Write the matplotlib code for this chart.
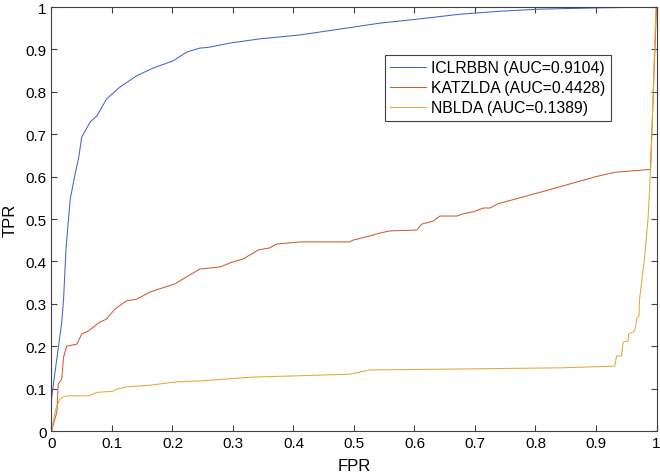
import matplotlib
matplotlib.use("Agg")
from matplotlib import pyplot as plt
from matplotlib.ticker import FuncFormatter

# ROC points
fpr_iclrbbn = [0, 0.0, 0.005, 0.011, 0.017, 0.02, 0.024, 0.031, 0.039, 0.045, 0.05, 0.064, 0.075,
               0.091, 0.113, 0.141, 0.168, 0.201, 0.224, 0.245, 0.26, 0.295, 0.345, 0.41, 0.477,
               0.543, 0.609, 0.675, 0.741, 0.807, 0.906, 1.0]
tpr_iclrbbn = [0, 0.075, 0.13, 0.193, 0.257, 0.311, 0.43, 0.547, 0.606, 0.645, 0.693, 0.729, 0.743,
               0.783, 0.811, 0.838, 0.856, 0.873, 0.894, 0.903, 0.905, 0.915, 0.925, 0.934, 0.948,
               0.962, 0.972, 0.983, 0.99, 0.995, 0.998, 1.0]

fpr_katzlda = [0, 0.009, 0.011, 0.017, 0.02, 0.025, 0.042, 0.05, 0.061, 0.08, 0.091, 0.105, 0.124,
               0.141, 0.163, 0.204, 0.245, 0.279, 0.298, 0.317, 0.342, 0.361, 0.372, 0.411, 0.493,
               0.498, 0.526, 0.543, 0.559, 0.604, 0.612, 0.631, 0.642, 0.67, 0.68, 0.697, 0.714,
               0.725, 0.738, 0.8, 0.85, 0.9, 0.93, 0.99, 1.0]
tpr_katzlda = [0, 0.045, 0.11, 0.123, 0.174, 0.2, 0.205, 0.229, 0.236, 0.257, 0.264, 0.288, 0.307,
               0.311, 0.328, 0.347, 0.382, 0.387, 0.398, 0.406, 0.427, 0.432, 0.441, 0.446, 0.446,
               0.45, 0.46, 0.467, 0.472, 0.474, 0.488, 0.495, 0.507, 0.507, 0.512, 0.517, 0.526,
               0.526, 0.536, 0.56, 0.58, 0.60, 0.61, 0.617, 1.0]

fpr_nblda = [0, 0.006, 0.009, 0.014, 0.022, 0.033, 0.061, 0.075, 0.102, 0.108, 0.124, 0.163, 0.207,
             0.245, 0.33, 0.493, 0.526, 0.66, 0.84, 0.931, 0.934, 0.942, 0.945, 0.953, 0.954, 0.962,
             0.964, 0.968, 0.971, 0.972, 0.98, 0.986, 0.991, 0.999, 1.0]
tpr_nblda = [0, 0.045, 0.06, 0.075, 0.082, 0.083, 0.083, 0.091, 0.094, 0.099, 0.104, 0.108, 0.116,
             0.118, 0.127, 0.134, 0.144, 0.146, 0.149, 0.153, 0.177, 0.177, 0.21, 0.212, 0.229, 0.234,
             0.238, 0.269, 0.271, 0.311, 0.405, 0.5, 0.64, 1.0, 1.0]

labels = ["ICLRBBN (AUC=0.9104)", "KATZLDA (AUC=0.4428)", "NBLDA (AUC=0.1389)"]
colors = ["#4066c8", "#cc5a36", "#e2aa38"]
ticks = [0, 0.1, 0.2, 0.3, 0.4, 0.5, 0.6, 0.7, 0.8, 0.9, 1]

plt.rcParams["font.family"] = ["Liberation Sans", "DejaVu Sans"]

fig = plt.figure(figsize=(6.6, 4.77), dpi=100)
ax = fig.add_axes([0.078, 0.0943, 0.9167, 0.8889])

curves = [(fpr_iclrbbn, tpr_iclrbbn), (fpr_katzlda, tpr_katzlda), (fpr_nblda, tpr_nblda)]
for (x, y), lab, c in zip(curves, labels, colors):
    ax.plot(x, y, color=c, linewidth=0.75, label=lab)

ax.set_xlim(0, 1)
ax.set_ylim(0, 1)
ax.set_xticks(ticks)
ax.set_yticks(ticks)
fmt = FuncFormatter(lambda v, p: "%g" % v)
ax.xaxis.set_major_formatter(fmt)
ax.yaxis.set_major_formatter(fmt)
ax.tick_params(direction="in", length=4.5, width=0.8, top=True, right=True,
               labelsize=11, colors="#404040", labelcolor="black")
for s in ax.spines.values():
    s.set_color("#404040")
    s.set_linewidth(0.8)

ax.set_xlabel("FPR", fontsize=12, labelpad=6)
ax.set_ylabel("TPR", fontsize=12, labelpad=6)

leg = ax.legend(loc="upper left", bbox_to_anchor=(0.551, 0.888), fontsize=11.3,
                fancybox=False, framealpha=1, edgecolor="#404040", borderpad=0.35,
                handlelength=2.3, handletextpad=0.3, labelspacing=0.32, borderaxespad=0)
leg.get_frame().set_linewidth(0.8)

fig.savefig("out.png", dpi=100)
